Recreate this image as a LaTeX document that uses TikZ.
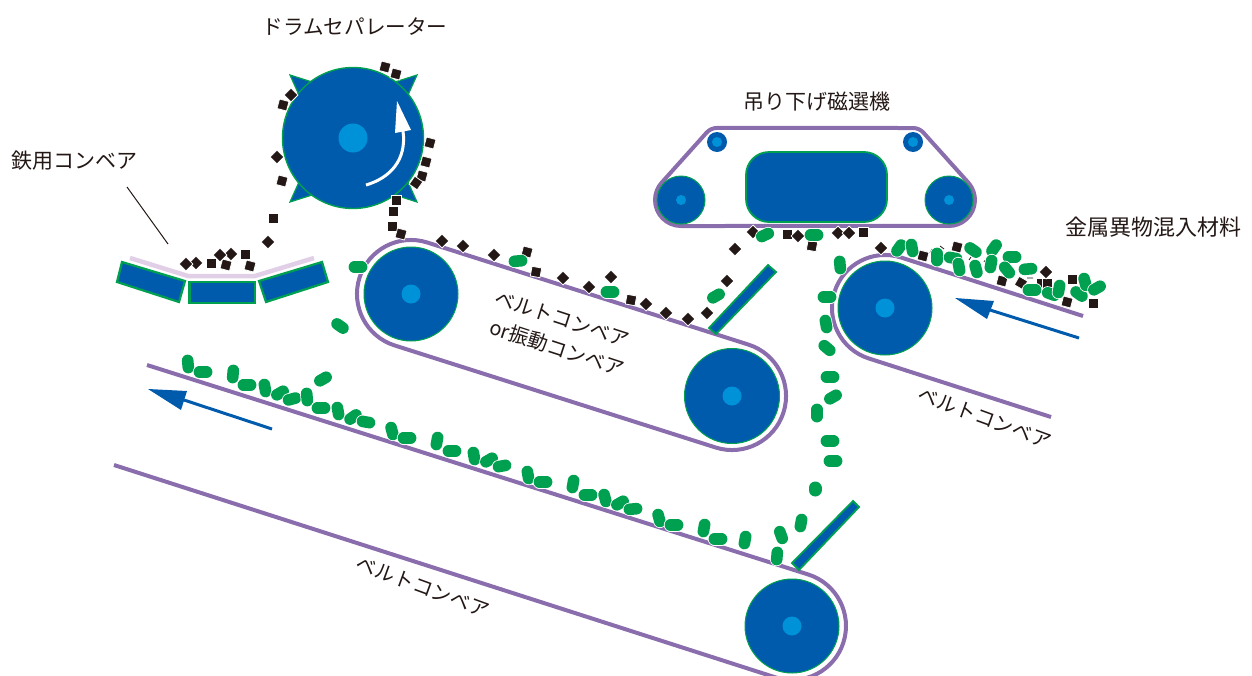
\documentclass[tikz,border=0pt]{standalone}
\usepackage{fontspec}
\setmainfont{Noto Sans CJK JP}[Scale=1]
\definecolor{blu}{HTML}{005BAC}
\definecolor{hub}{HTML}{0092D8}
\definecolor{grn}{HTML}{00A051}
\definecolor{pur}{HTML}{8A6DAC}
\definecolor{lil}{HTML}{E0CFE6}
\definecolor{blk}{HTML}{231815}
\newcommand\rollr[3]{\fill[blu,draw=grn,line width=1] (#1,#2) circle (#3);}
\newcommand\hubc[3]{\fill[hub] (#1,#2) circle (#3);}
\newcommand\pl[3]{\draw[line cap=round,white,line width=13.2] ([shift={(#3:3.6)}]#1,#2) -- ([shift={(#3+180:3.6)}]#1,#2);
  \draw[line cap=round,grn,line width=11.6] ([shift={(#3:3.6)}]#1,#2) -- ([shift={(#3+180:3.6)}]#1,#2);}
\newcommand\sq[3]{\filldraw[fill=blk,draw=white,line width=.8,shift={(#1,#2)},rotate=#3] (-4.9,-4.9) rectangle (4.9,4.9);}
\tikzset{
  belt/.style={draw=pur,line width=4},
  plate/.style={fill=blu,draw=grn,line width=1.8},
  lab/.style={font=\fontsize{20.6}{22}\selectfont,text=blk,inner sep=0pt},
  tiltlab/.style={font=\fontsize{20}{22}\selectfont,text=blk,inner sep=0pt},
  flow/.style={draw=blu,line width=3},
}
\begin{document}
\begin{tikzpicture}[x=1pt,y=1pt,yscale=-1]
\useasboundingbox (0,0) rectangle (1252,675);
% belts
\draw[belt] (687,226) -- (681,226) arc[start angle=90,end angle=221.9,radius=26] -- (706.6,132.6) arc[start angle=221.9,end angle=270,radius=14] -- (913,128) arc[start angle=270,end angle=318.1,radius=14] -- (968.3,182.6) arc[start angle=318.1,end angle=450,radius=26] -- cycle;
\draw[belt] (427.3,242.5) arc[start angle=287.6,end angle=107.6,radius=54] -- (715.7,447.5) arc[start angle=107.6,end angle=-72.4,radius=54] -- cycle;
\draw[belt] (1083,316) -- (901.1,257.5) arc[start angle=287.7,end angle=107.7,radius=53] -- (1051,417);
\draw[belt] (147,365) -- (808.3,574.5) arc[start angle=287.6,end angle=467.6,radius=54] -- (114,465);
\draw[lil,line width=4.5] (130,258) -- (188,276) -- (255,276) -- (314,258);
% rollers
\rollr{411}{294}{47}\hubc{411}{294}{9.5}
\rollr{732}{396}{47.5}\hubc{732}{396}{9.5}
\rollr{885}{308}{47}\hubc{885}{308}{9.5}
\rollr{792}{626}{47}\hubc{792}{626}{9.5}
\rollr{681}{200}{24}\hubc{681}{200}{5}
\rollr{949}{200}{24}\hubc{949}{200}{5}
\fill[blu] (717,142) circle (10);\hubc{717}{142}{5}
\fill[blu] (913,142) circle (10);\hubc{913}{142}{5}
\filldraw[plate,rounded corners=23] (746,152) rectangle (887,222);
% plates
\filldraw[plate] (768,265) -- (776,272) -- (716,334) -- (709,328) -- cycle;
\filldraw[plate] (853,501) -- (859,507) -- (799,570) -- (792,563) -- cycle;
\filldraw[plate,line width=2.2] (122,262) -- (185,281) -- (179,302) -- (117,282) -- cycle;
\filldraw[plate,line width=2.2] (189.5,282) rectangle (255,303);
\filldraw[plate,line width=2.2] (259,281) -- (322,262) -- (328,282) -- (266,302) -- cycle;
% drum
\filldraw[plate,line width=1.2] (290,75) -- (312,82) -- (299,95) -- cycle;
\filldraw[plate,line width=1.2] (417,75) -- (395,82) -- (408,95) -- cycle;
\filldraw[plate,line width=1.2] (290,202) -- (312,195) -- (299,182) -- cycle;
\filldraw[plate,line width=1.2] (417,202) -- (395,195) -- (408,182) -- cycle;
\fill[blu,draw=grn,line width=1.4] (353,138) circle (70.5);
\hubc{353}{138}{14.5}
\draw[white,line width=3] (366,185) .. controls (390,178) and (407,160) .. (403,131);
\fill[white] (397,101) -- (411,130) -- (395,133) -- cycle;
% leader
\draw[blk,line width=1] (127,187) -- (168,244);
% flow arrows
\draw[flow] (1079,338) -- (990,310);
\fill[blu] (955,298) -- (994,301) -- (987,319) -- cycle;
\draw[flow] (272,429) -- (184,400);
\fill[blu] (148,389) -- (187,391) -- (181,410) -- cycle;
% squares
\foreach \x/\y/\r in {385/67/15,396/74/15,283/105/15,430/143/15,426/162/15,422/176/15,416/183/35,396/200/0,393/211/0,392/226/0,401/234/15,282/181/15,273/218/0,245/254/0,250/266/15,226/265/15,211/263/0,527/252/15,536/272/10,631/300/10,787/234/0,812/246/10,863/232/0,923/256/15,957/247/15,1002/281/15,1021/283/30,1041/283/0,1047/283/0,1072/279/0,1067/302/15,1093/303/0}{\sq{\x}{\y}{\r}}
% diamonds
\foreach \x/\y in {291/95,277/157,268/242,231/254,220/255,196/263,186/264,442/241,463/246,494/255,563/278,589/287,611/277,646/304,666/313,688/319,707/313,727/281,735/249,753/232,798/236,838/233,849/233,881/248,1046/272}{\sq{\x}{\y}{45}}
% pieces peeking from under pellets
\draw[blk,line width=.8] (940,246) -- (944,249) (930,253) -- (932,249) (969,260) -- (971,257) (1027,278) -- (1033,278) (984,262) -- (986,259);
% pellets
\foreach \x/\y/\a in {188/364/85,203/372/0,233/374/-85,247/385/0,265/388/80,280/393/-30,292/399/-15,307/397/85,323/379/-30,321/408/0,338/411/80,353/417/-35,366/422/10,392/431/75,407/438/0,437/441/-80,452/451/0,474/456/80,489/460/-30,502/466/-10,528/475/80,543/482/0,573/484/-80,588/495/0,605/498/75,620/503/-30,633/509/-5,659/518/75,674/525/0,704/528/-80,718/539/0,745/540/-80,777/556/-85,781/535/70,801/523/-80,833/461/0,830/441/0,827/297/0,826/324/80,827/348/40,830/377/0,833/397/-30,817/413/90,840/265/85,899/248/-55,912/248/80,937/257/90,953/258/10,959/267/80,976/269/75,973/250/35,994/248/-55,991/264/-80,1012/257/0,1007/270/50,1028/269/-5,1032/290/0,1051/294/20,1059/289/-80,1079/294/35,1085/282/75,1097/288/-30,765/235/-25,814/235/0,716/296/-30,358/267/0,340/326/35,518/261/-5,610/292/0}{\pl{\x}{\y}{\a}}
\draw[line cap=round,grn,line width=13] (815,488) -- (815,490);
% labels
\node[lab] (drumlab) at (355,27) {ドラムセパレーター};
\node[lab,font=\fontsize{21}{23}\selectfont] (maglab) at (817,102) {吊り下げ磁選機};
\node[lab,font=\fontsize{21}{23}\selectfont] (ironlab) at (74,161) {鉄用コンベア};
\node[lab,font=\fontsize{22}{24}\selectfont] (mixlab) at (1153,227) {金属異物混入材料};
\node[tiltlab,rotate=-18] (midlaba) at (562,319) {ベルトコンベア};
\node[tiltlab,rotate=-18] (midlabb) at (557,348) {or振動コンベア};
\node[tiltlab,rotate=-20] (rightlab) at (985,418) {ベルトコンベア};
\node[tiltlab,rotate=-20] (botlab) at (423,587) {ベルトコンベア};
\end{tikzpicture}
\end{document}
